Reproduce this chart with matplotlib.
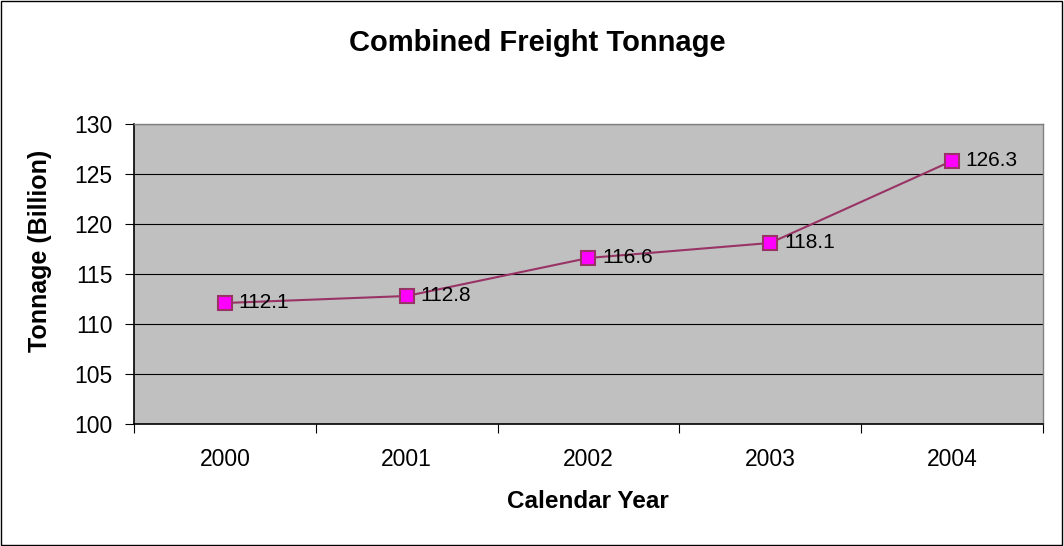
import matplotlib
matplotlib.use("Agg")
import matplotlib.pyplot as plt
from matplotlib.patches import Rectangle

years = ["2000", "2001", "2002", "2003", "2004"]
tonnage = [112.1, 112.8, 116.6, 118.1, 126.3]
yticks = [100, 105, 110, 115, 120, 125, 130]

plt.rcParams['font.family'] = ['Liberation Sans', 'DejaVu Sans']

fig = plt.figure(figsize=(10.64, 5.46), dpi=100)
fig.patch.set_facecolor('white')
fig.add_artist(Rectangle((0.001, 0.002), 0.997, 0.996, transform=fig.transFigure,
                         fill=False, edgecolor='black', linewidth=1.0))

ax = fig.add_axes([0.126, 0.2234, 0.854, 0.5496])
ax.set_facecolor('#C0C0C0')
x = list(range(len(years)))
ax.plot(x, tonnage, color='#993366', linewidth=1.5, marker='s', markersize=9.5,
        markerfacecolor='#FF00FF', markeredgecolor='#993366', markeredgewidth=1.5, zorder=3)
for xi, v in zip(x, tonnage):
    ax.annotate(f"{v:.1f}", (xi, v), xytext=(10, 0), textcoords='offset points',
                ha='left', va='center', fontsize=15, color='black', zorder=4)

ax.set_xlim(-0.5, len(years) - 0.5)
ax.set_ylim(100, 130)
ax.set_yticks(yticks)
ax.set_yticklabels([str(t) for t in yticks], fontsize=16.5)
ax.yaxis.grid(True, color='black', linewidth=0.8)
ax.set_axisbelow(True)
ax.set_xticks([i - 0.5 for i in range(len(years) + 1)])
ax.set_xticklabels([])
ax.set_xticks(x, minor=True)
ax.set_xticklabels(years, minor=True, fontsize=16.5)
ax.tick_params(axis='x', which='major', direction='out', length=6.5, color='black')
ax.tick_params(axis='x', which='minor', length=0, pad=17)
ax.tick_params(axis='y', direction='out', length=6.5, pad=9)

for side in ['top', 'right']:
    ax.spines[side].set_color('#808080')
    ax.spines[side].set_linewidth(1.0)
ax.spines['left'].set_color('black')
ax.spines['bottom'].set_color('black')
ax.spines['left'].set_linewidth(1.2)
ax.spines['bottom'].set_linewidth(1.2)

fig.text(588 / 1064, 1 - 502 / 546, "Calendar Year", ha='center', va='center',
         fontsize=17.5, fontweight='bold')
fig.text(40 / 1064, 1 - 251 / 546, "Tonnage (Billion)", ha='center', va='center',
         rotation=90, fontsize=18, fontweight='bold')
fig.text(537 / 1064, 1 - 43 / 546, "Combined Freight Tonnage", ha='center', va='center',
         fontsize=21, fontweight='bold')

fig.savefig("out.png", dpi=100)
